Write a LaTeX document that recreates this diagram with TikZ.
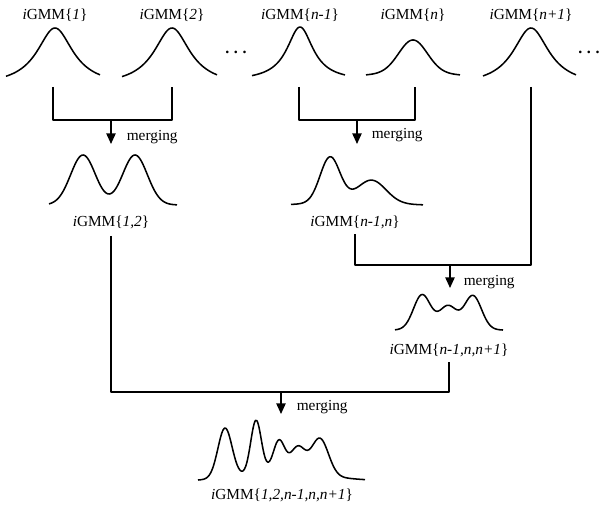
\documentclass[tikz,border=0pt]{standalone}
\usepackage{fontspec}
\setmainfont{Liberation Serif}
\usetikzlibrary{arrows.meta}
\begin{document}
\begin{tikzpicture}[x=0.75pt,y=-0.75pt,
  line width=1.15pt, line join=round,
  lbl/.style={inner sep=0pt, font=\fontsize{11.5}{13}\selectfont},
  mrg/.style={inner sep=0pt, anchor=west, font=\fontsize{11.5}{13}\selectfont},
  dts/.style={inner sep=0pt, font=\bfseries\fontsize{12}{13}\selectfont},
  arr/.style={-{Triangle[width=7pt,length=8pt]}},
  curve/.style={samples=120, smooth},
  declare function={g(\u,\m,\s)=exp(-((\u-\m)/\s)^2); c(\u,\m,\w)=1/(1+((\u-\m)/\w)^2);}]
\useasboundingbox (0,0) rectangle (601,506);

% top curves
\draw[curve] plot[domain=6:100] (\x,{86-58*c(\x,55,22)});
\draw[curve] plot[domain=122:217] (\x,{86-58*c(\x,172,22)});
\draw[curve] plot[domain=252:345] (\x,{81-54*c(\x,300,16)});
\draw[curve] plot[domain=366:460] (\x,{77-30*g(\x,413,20)-7*c(\x,413,30)});
\draw[curve] plot[domain=483:576] (\x,{86-58*c(\x,531,22)});

% top labels
\node[lbl] (L1) at (55,15) {\textit{i}GMM\{\textit{1}\}};
\node[lbl] (L2) at (172,15) {\textit{i}GMM\{\textit{2}\}};
\node[lbl] (L3) at (300,15) {\textit{i}GMM\{\textit{n-1}\}};
\node[lbl] (L4) at (413,15) {\textit{i}GMM\{\textit{n}\}};
\node[lbl] (L5) at (531,15) {\textit{i}GMM\{\textit{n+1}\}};
\node[dts] (D1) at (236,52) {.\kern3.5pt.\kern3.5pt.};
\node[dts] (D2) at (589,52) {.\kern3.5pt.\kern3.5pt.};

% middle curves
\draw[curve] plot[domain=49:177] (\x,{205-50*(g(\x,83,17.5)+g(\x,135,17.5))});
\draw[curve] plot[domain=291:423] (\x,{206-45*g(\x,330,14)-22*g(\x,372,20)-5*c(\x,350,40)});
\node[lbl] (L12) at (111,222) {\textit{i}GMM\{\textit{1,2}\}};
\node[lbl] (Ln1n) at (355,222) {\textit{i}GMM\{\textit{n-1,n}\}};

\draw[curve] plot[domain=395:503] (\x,{331-34*g(\x,422,12)-21*g(\x,448,12)-33*g(\x,473,12)-4*c(\x,448,30)});
\node[lbl] (Ln1nn1) at (449,350) {\textit{i}GMM\{\textit{n-1,n,n+1}\}};

% bottom curve
\draw[curve] plot[domain=198:365] (\x,{483-50*g(\x,225,10)-53*g(\x,256,7.5)-29*g(\x,279,8)-23*g(\x,298,10)-36*g(\x,320,12)-14*c(\x,285,45)});
\node[lbl] (Lall) at (282,495) {\textit{i}GMM\{\textit{1,2,n-1,n,n+1}\}};

% connectors
\coordinate (s1) at (53,87);
\coordinate (s2) at (172,87);
\coordinate (s3) at (299,87);
\coordinate (s4) at (415,87);
\coordinate (s5) at (531,87);
\coordinate (j1) at (111,120);
\coordinate (t1) at (111,144);
\coordinate (j2) at (357,120);
\coordinate (t2) at (357,144);
\coordinate (u1) at (111,236);
\coordinate (u2) at (355,234);
\coordinate (j3) at (450,265);
\coordinate (t3) at (450,288);
\coordinate (u3) at (449,362);
\coordinate (j4) at (281,392);
\coordinate (t4) at (281,414);

\draw (s1) -- (s1 |- j1) -- (s2 |- j1) -- (s2);
\draw[arr] (j1) -- (t1);
\draw (s3) -- (s3 |- j2) -- (s4 |- j2) -- (s4);
\draw[arr] (j2) -- (t2);
\draw (s5) -- (s5 |- j3) -- (u2 |- j3) -- (u2);
\draw[arr] (j3) -- (t3);
\draw (u1) -- (u1 |- j4) -- (u3 |- j4) -- (u3);
\draw[arr] (j4) -- (t4);

\node[mrg] (M1) at (126,137) {merging};
\node[mrg] (M2) at (371,135) {merging};
\node[mrg] (M3) at (463,282) {merging};
\node[mrg] (M4) at (296,407) {merging};
\end{tikzpicture}
\end{document}
